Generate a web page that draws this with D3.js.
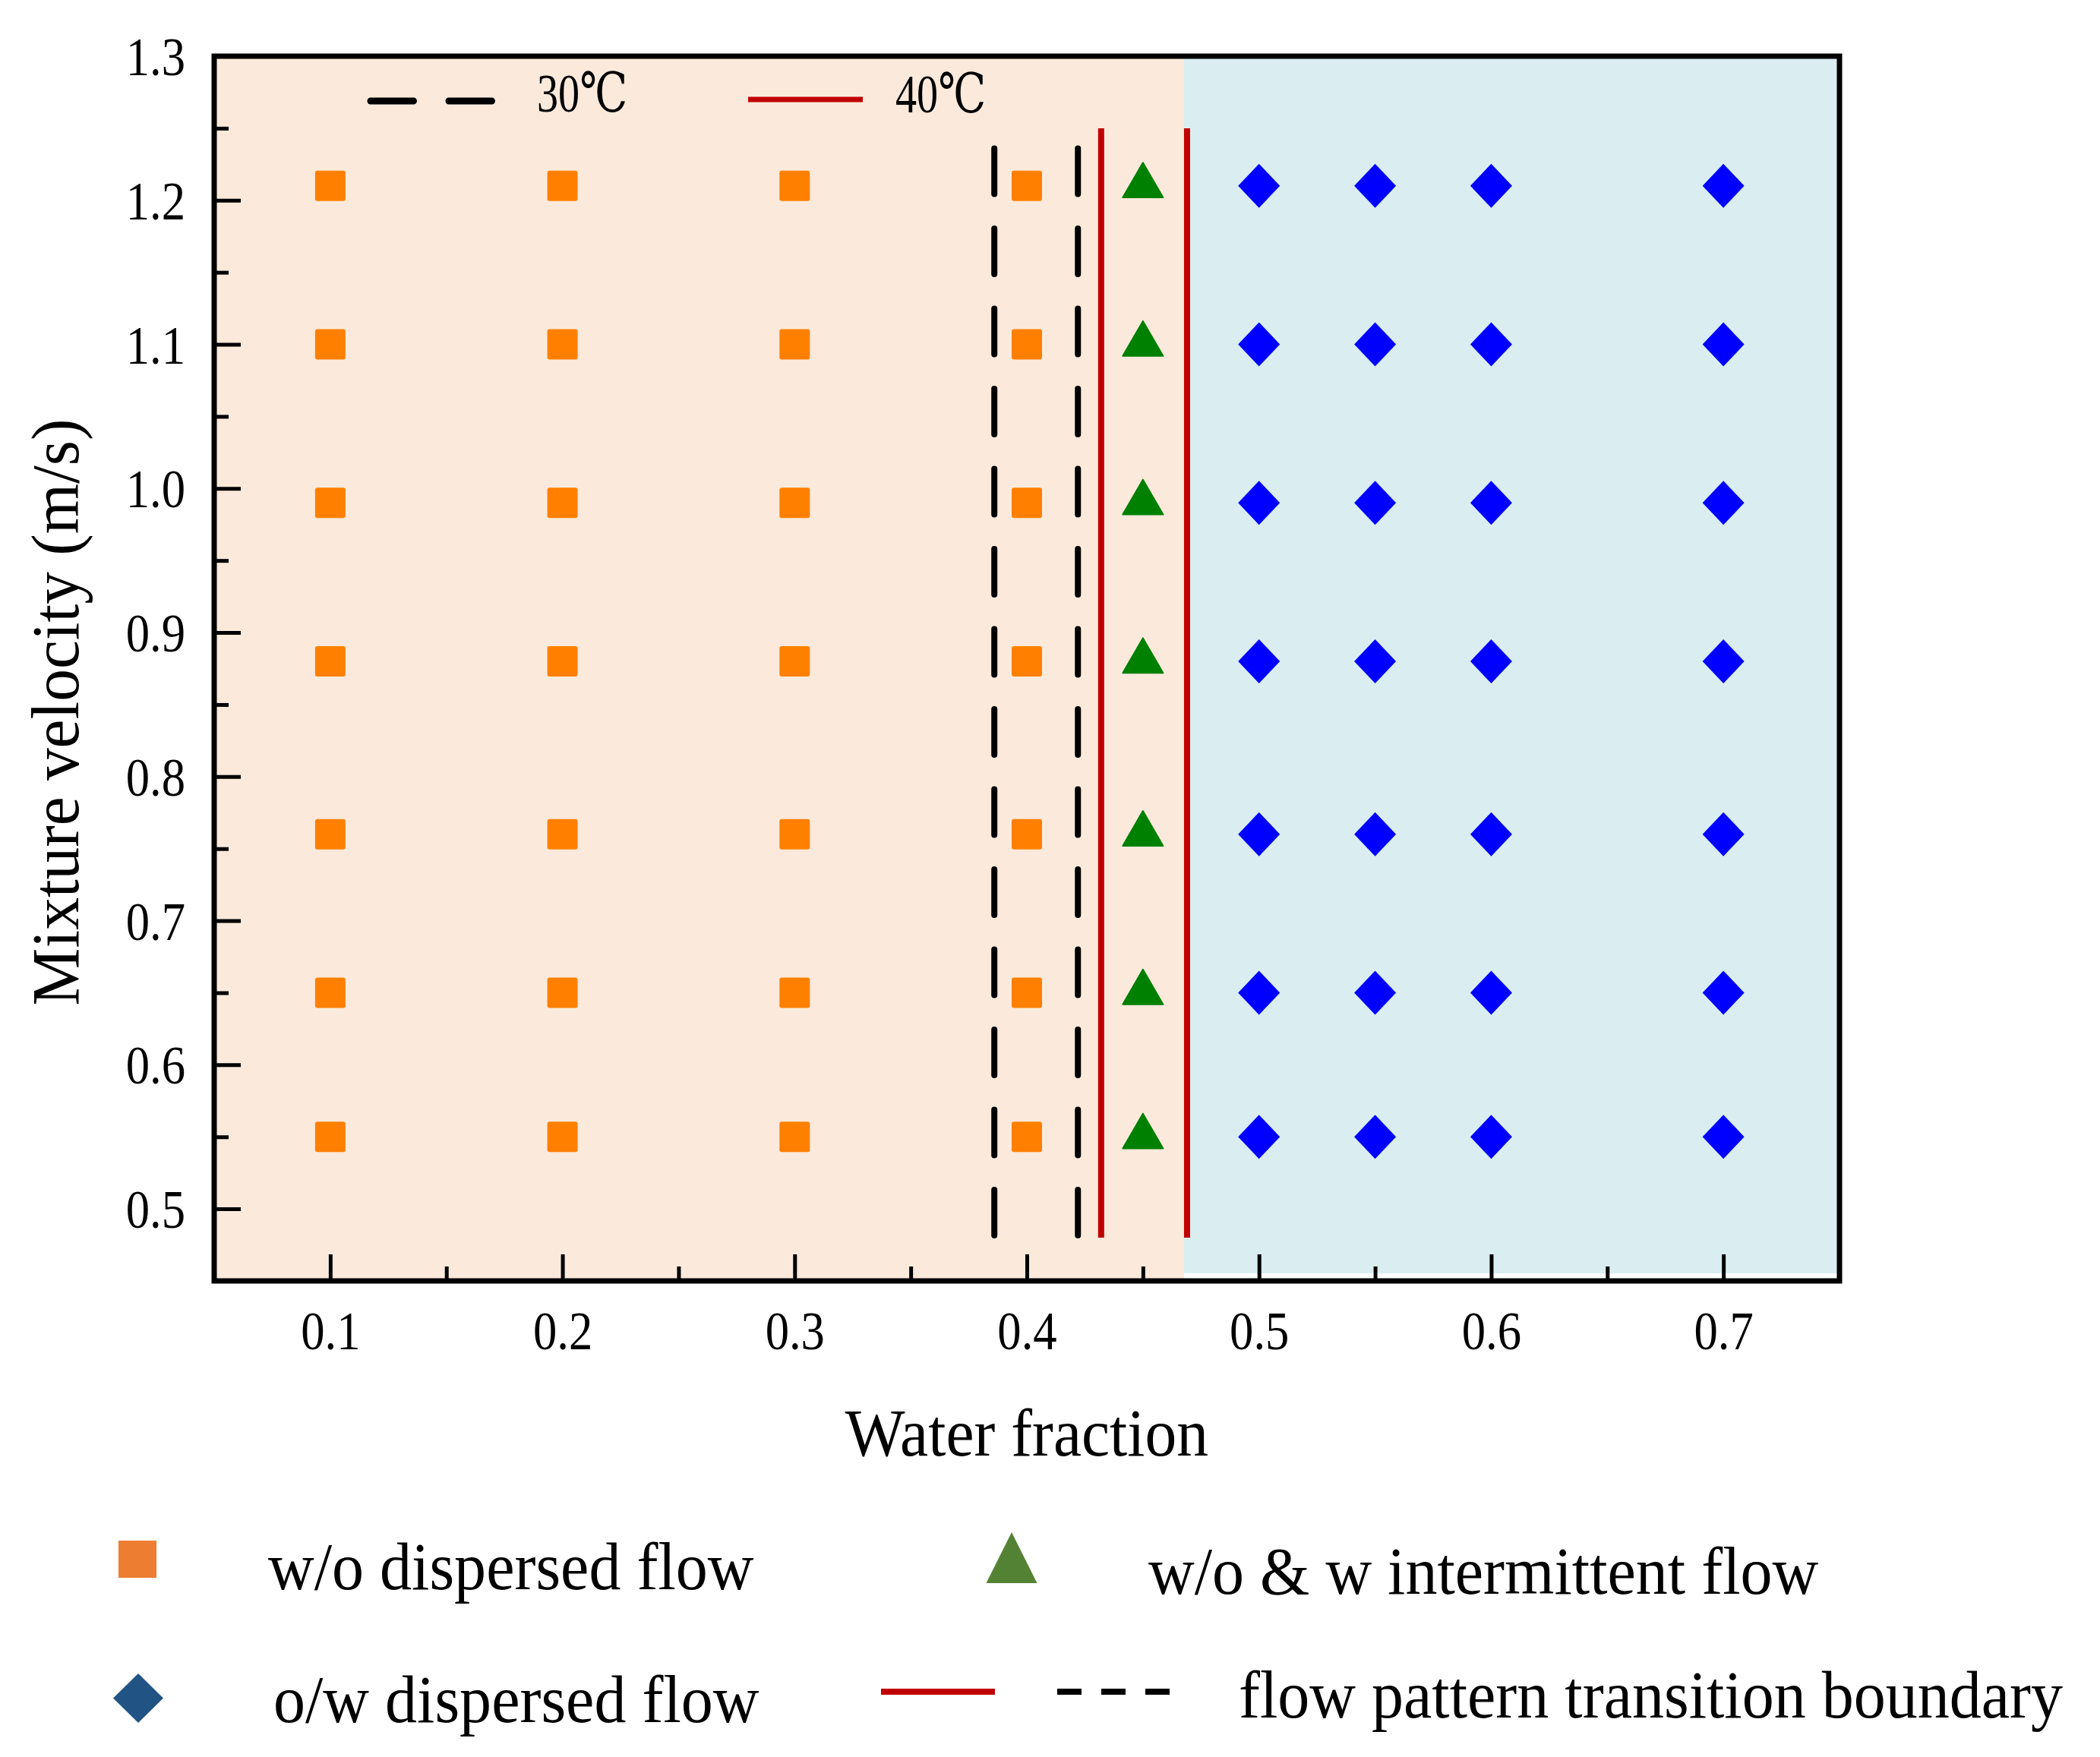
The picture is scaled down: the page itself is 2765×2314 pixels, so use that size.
<!DOCTYPE html>
<html>
<head>
<meta charset="utf-8">
<script src="https://cdn.jsdelivr.net/npm/d3@7"></script>
<style>
  body { margin: 0; background: #fff; }
  text { font-family: "Liberation Serif", "Times New Roman", "DejaVu Serif", serif; fill: #000; }
</style>
</head>
<body>
<div id="chart"></div>
<script>
/* data */
var velocities = [0.55, 0.65, 0.76, 0.88, 0.99, 1.10, 1.21];   // mixture velocity (m/s)
var wo_dispersed_x = [0.1, 0.2, 0.3, 0.4];                      // w/o dispersed flow
var intermittent_x = [0.45];                                    // w/o & w intermittent flow
var ow_dispersed_x = [0.5, 0.55, 0.6, 0.7];                     // o/w dispersed flow
var boundary_30 = [0.386, 0.422];                               // 30 C transition boundaries
var boundary_40 = [0.432, 0.469];                               // 40 C transition boundaries
var boundary_30_span = [0.48, 1.236];
var boundary_40_span = [0.48, 1.25];
var region_split = 0.4677;                                      // edge between shaded zones
var x_ticks = [0.1, 0.2, 0.3, 0.4, 0.5, 0.6, 0.7];
var x_minor = [0.15, 0.25, 0.35, 0.45, 0.55, 0.65];
var y_ticks = [0.5, 0.6, 0.7, 0.8, 0.9, 1.0, 1.1, 1.2, 1.3];
var y_minor = [0.55, 0.65, 0.75, 0.85, 0.95, 1.05, 1.15, 1.25];

var width = 2765;
var height = 2314;
var plot = {left: 282, top: 74, right: 2422, bottom: 1687};

var svg = d3.select('#chart').append('svg')
  .attr('width', width)
  .attr('height', height);

var xScale = d3.scaleLinear().domain([0.05, 0.75]).range([plot.left, plot.right]);
var yScale = d3.scaleLinear().domain([0.45, 1.3]).range([plot.bottom, plot.top]);

// text is a bit condensed in the original, squeeze horizontally
function addText(str, x, y, size, sx, anchor, rotate) {
  var t = 'translate(' + x + ',' + y + ')' + (rotate ? ' rotate(' + rotate + ')' : '') + ' scale(' + sx + ',1)';
  return svg.append('text')
    .attr('transform', t)
    .attr('font-size', size)
    .attr('text-anchor', anchor || 'start')
    .text(str);
}

// background zones
svg.append('rect')
  .attr('x', xScale(0.05))
  .attr('y', yScale(1.3))
  .attr('width', xScale(region_split) - xScale(0.05))
  .attr('height', yScale(0.45) - yScale(1.3))
  .attr('fill', '#fbeadc');
svg.append('rect')
  .attr('x', xScale(region_split))
  .attr('y', yScale(1.3))
  .attr('width', xScale(0.75) - xScale(region_split))
  .attr('height', yScale(0.4553) - yScale(1.3))
  .attr('fill', '#daedf1');

// transition boundaries
boundary_30.map(function (b) {
  svg.append('line')
    .attr('x1', xScale(b)).attr('x2', xScale(b))
    .attr('y1', yScale(boundary_30_span[1])).attr('y2', yScale(boundary_30_span[0]))
    .attr('stroke', '#000')
    .attr('stroke-width', 8)
    .attr('stroke-linecap', 'round')
    .attr('stroke-dasharray', '60,45.5');
});
boundary_40.map(function (b) {
  svg.append('line')
    .attr('x1', xScale(b)).attr('x2', xScale(b))
    .attr('y1', yScale(boundary_40_span[1])).attr('y2', yScale(boundary_40_span[0]))
    .attr('stroke', '#c00000')
    .attr('stroke-width', 8);
});

// markers
var diamond = function (w, h) {
  var p = d3.path();
  p.moveTo(0, -h / 2); p.lineTo(w / 2, 0); p.lineTo(0, h / 2); p.lineTo(-w / 2, 0); p.closePath();
  return p.toString();
};
var triangle = d3.symbol().type(d3.symbolTriangle).size(1217)();

var points = [];
velocities.map(function (v) {
  wo_dispersed_x.map(function (x) { points.push({x: x, v: v, kind: 'wo'}); });
  intermittent_x.map(function (x) { points.push({x: x, v: v, kind: 'int'}); });
  ow_dispersed_x.map(function (x) { points.push({x: x, v: v, kind: 'ow'}); });
});

var g = svg.append('g');
g.selectAll('.sq')
  .data(points.filter(function (d) { return d.kind == 'wo'; }))
  .enter().append('rect')
  .attr('class', 'sq')
  .attr('x', function (d) { return xScale(d.x) - 20; })
  .attr('y', function (d) { return yScale(d.v) - 20; })
  .attr('width', 40).attr('height', 40)
  .attr('rx', 3)
  .attr('fill', '#ff8000');
g.selectAll('.tri')
  .data(points.filter(function (d) { return d.kind == 'int'; }))
  .enter().append('path')
  .attr('class', 'tri')
  .attr('d', triangle)
  .attr('transform', function (d) { return 'translate(' + xScale(d.x) + ',' + yScale(d.v) + ')'; })
  .attr('fill', '#008000')
  .attr('stroke', '#008000')
  .attr('stroke-width', 2)
  .attr('stroke-linejoin', 'round');
g.selectAll('.dia')
  .data(points.filter(function (d) { return d.kind == 'ow'; }))
  .enter().append('path')
  .attr('class', 'dia')
  .attr('d', diamond(55, 58))
  .attr('transform', function (d) { return 'translate(' + xScale(d.x) + ',' + yScale(d.v) + ')'; })
  .attr('fill', '#0000ff');

// axes (ticks point inward)
var xAxis = svg.append('g')
  .attr('transform', 'translate(0,' + plot.bottom + ')')
  .call(d3.axisBottom(xScale).tickValues(x_ticks).tickSizeInner(-35).tickSizeOuter(0).tickFormat(d3.format('.1f')));
var xMinor = svg.append('g')
  .attr('transform', 'translate(0,' + plot.bottom + ')')
  .call(d3.axisBottom(xScale).tickValues(x_minor).tickSizeInner(-19).tickSizeOuter(0).tickFormat(''));
var yAxis = svg.append('g')
  .attr('transform', 'translate(' + plot.left + ',0)')
  .call(d3.axisLeft(yScale).tickValues(y_ticks).tickSizeInner(-35).tickSizeOuter(0).tickFormat(d3.format('.1f')));
var yMinor = svg.append('g')
  .attr('transform', 'translate(' + plot.left + ',0)')
  .call(d3.axisLeft(yScale).tickValues(y_minor).tickSizeInner(-19).tickSizeOuter(0).tickFormat(''));

[xAxis, xMinor, yAxis, yMinor].map(function (a) {
  a.select('.domain').remove();
  a.selectAll('line').attr('stroke', '#000').attr('stroke-width', 5);
});
xAxis.selectAll('text')
  .attr('x', null).attr('y', null).attr('dy', null)
  .attr('font-size', 72)
  .attr('font-family', null)
  .attr('transform', 'translate(0,90) scale(0.87,1)');
yAxis.selectAll('text')
  .attr('x', null).attr('dy', '0.34em')
  .attr('font-size', 72)
  .attr('font-family', null)
  .attr('transform', 'translate(-38,0) scale(0.87,1)');

// frame
svg.append('rect')
  .attr('x', plot.left).attr('y', plot.top)
  .attr('width', plot.right - plot.left)
  .attr('height', plot.bottom - plot.top)
  .attr('fill', 'none')
  .attr('stroke', '#000')
  .attr('stroke-width', 7);

// axis titles
addText('Water fraction', xScale(0.4), 1917, 88, 0.95, 'middle');
addText('Mixture velocity (m/s)', 103, 938, 88, 0.97, 'middle', -90);

// temperature key inside the plot
svg.append('line')
  .attr('x1', 488).attr('x2', 648).attr('y1', 133).attr('y2', 133)
  .attr('stroke', '#000').attr('stroke-width', 9)
  .attr('stroke-linecap', 'round')
  .attr('stroke-dasharray', '56.5,46.5');
addText('30℃', 707, 147, 72, 0.78);
svg.append('line')
  .attr('x1', 985).attr('x2', 1136).attr('y1', 131).attr('y2', 131)
  .attr('stroke', '#c00000').attr('stroke-width', 7);
addText('40℃', 1179, 148, 72, 0.78);

// flow pattern key below
svg.append('rect')
  .attr('x', 156).attr('y', 2029).attr('width', 50).attr('height', 49)
  .attr('fill', '#ed7d31');
addText('w/o dispersed flow', 353, 2093, 88, 0.955);

svg.append('path')
  .attr('d', 'M0,-33.5L33.5,33.5L-33.5,33.5Z')
  .attr('transform', 'translate(1332,2051.5)')
  .attr('fill', '#548235');
addText('w/o & w intermittent flow', 1512, 2099, 88, 0.955);

svg.append('path')
  .attr('d', diamond(66, 65))
  .attr('transform', 'translate(182,2236.5)')
  .attr('fill', '#215485');
addText('o/w dispersed flow', 360, 2268, 88, 0.955);

svg.append('line')
  .attr('x1', 1160).attr('x2', 1310).attr('y1', 2228).attr('y2', 2228)
  .attr('stroke', '#c00000').attr('stroke-width', 8);
svg.append('line')
  .attr('x1', 1392).attr('x2', 1541).attr('y1', 2228).attr('y2', 2228)
  .attr('stroke', '#000').attr('stroke-width', 8)
  .attr('stroke-dasharray', '32,26');
addText('flow pattern transition boundary', 1631, 2262, 88, 0.955);
</script>
</body>
</html>
